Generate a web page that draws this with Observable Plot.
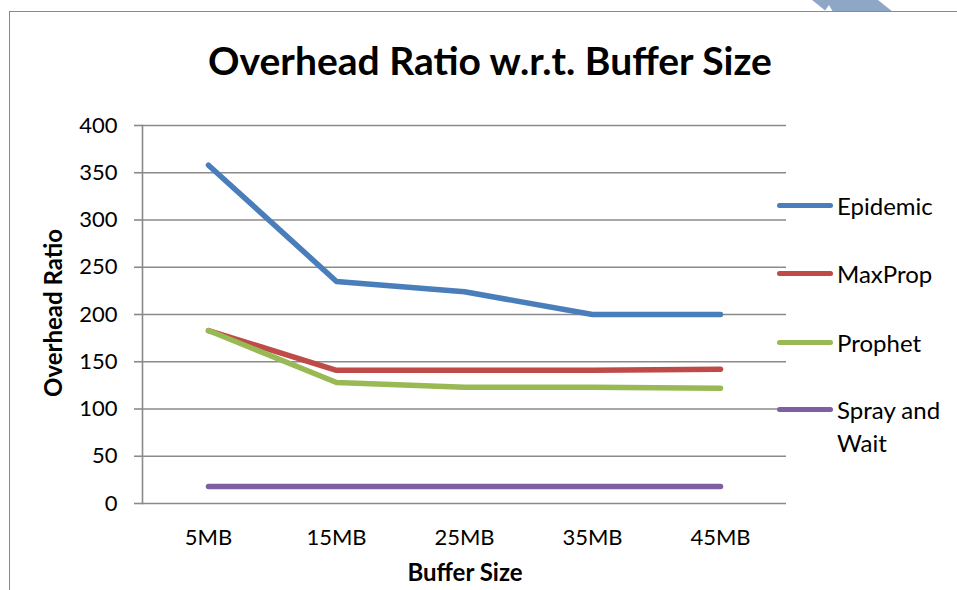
<!DOCTYPE html>
<html>
<head>
<meta charset="utf-8">
<script src="https://cdn.jsdelivr.net/npm/d3@7"></script>
<script src="https://cdn.jsdelivr.net/npm/@observablehq/plot@0.6"></script>
<style>
  html, body { margin: 0; padding: 0; background: #fff; }
  body { width: 957px; height: 590px; position: relative; overflow: hidden; font-family: Lato, "Open Sans", sans-serif; color: #000; }
  #swoosh { position: absolute; left: 0; top: 0; }
  #frame { position: absolute; left: 9px; top: 11px; width: 1000px; height: 700px; border-top: 1.5px solid #8a8a8a; border-left: 1.5px solid #8a8a8a; background: #fff; }
  #title { position: absolute; left: 0; width: 980px; top: 37px; text-align: center; font-weight: 700; font-size: 39px; line-height: 46px; }
  #chart { position: absolute; left: 0; top: 100px; }
  #xtitle { position: absolute; left: 365px; width: 200px; top: 557px; text-align: center; font-weight: 700; font-size: 24px; line-height: 30px; }
  #ytitle { position: absolute; left: 52px; top: 313px; transform: translate(-50%, -50%) rotate(-90deg); font-weight: 700; font-size: 24px; white-space: nowrap; }
  .leg { position: absolute; left: 777px; font-size: 24px; line-height: 33px; }
  .leg .sw { position: absolute; left: 0; width: 56px; height: 5px; border-radius: 3px; top: 14px; }
  .leg .lb { position: absolute; left: 60px; white-space: nowrap; }
</style>
</head>
<body>
<svg id="swoosh" width="957" height="20"><polygon points="812,0 878,0 893,12 827,12" fill="#8ea7c7"/><polygon points="824,12 833,12 829,5" fill="#fff"/></svg>
<div id="frame"></div>
<div id="title">Overhead Ratio w.r.t. Buffer Size</div>
<div id="chart"></div>
<div id="xtitle">Buffer Size</div>
<div id="ytitle">Overhead Ratio</div>
<div id="legend"></div>
<script>
const sizes = ["5MB", "15MB", "25MB", "35MB", "45MB"];
const seriesNames = ["Epidemic", "MaxProp", "Prophet", "Spray and Wait"];
const epidemic = [358, 235, 224, 200, 200];
const maxprop = [183, 141, 141, 141, 142];
const prophet = [183, 128, 123, 123, 122];
const sprayAndWait = [18, 18, 18, 18, 18];
const yTicks = [0, 50, 100, 150, 200, 250, 300, 350, 400];
const colors = ["#4a7ebb", "#be4b48", "#98b954", "#7d60a0"];

const seriesValues = [epidemic, maxprop, prophet, sprayAndWait];
const rows = [];
seriesNames.forEach((s, i) => sizes.forEach((size, j) => rows.push({series: s, size, value: seriesValues[i][j]})));

const grid = "#8a8a8a";
const chart = Plot.plot({
  width: 957,
  height: 490,
  marginTop: 25,
  marginBottom: 87,
  marginLeft: 142,
  marginRight: 171,
  style: {fontFamily: "Lato, 'Open Sans', sans-serif", fontSize: "22px", color: "#000", background: "transparent"},
  x: {type: "point", domain: sizes, padding: 0.5, axis: null},
  y: {domain: [0, 400], axis: null},
  color: {domain: seriesNames, range: colors},
  marks: [
    Plot.ruleY(yTicks, {stroke: grid, strokeWidth: 1.6}),
    Plot.axisY({ticks: yTicks, tickSize: 8, tickPadding: 17, stroke: grid, strokeWidth: 1.6, fill: "#000", fontSize: 22, label: null}),
    Plot.axisX({tickSize: 0, tickPadding: 26, fill: "#000", fontSize: 22, label: null}),
    Plot.frame({anchor: "left", stroke: grid, strokeWidth: 1.6}),
    Plot.line(rows, {x: "size", y: "value", z: "series", stroke: "series", strokeWidth: 5.5, strokeLinecap: "round", strokeLinejoin: "round"})
  ]
});
document.getElementById("chart").appendChild(chart);

const legend = document.getElementById("legend");
const legY = [205, 273, 342, 409];
seriesNames.forEach((s, i) => {
  const d = document.createElement("div");
  d.className = "leg";
  d.style.top = (legY[i] - 16) + "px";
  const parts = s === "Spray and Wait" ? "Spray and<br>Wait" : s;
  d.innerHTML = `<div class="sw" style="background:${colors[i]}"></div><div class="lb">${parts}</div>`;
  legend.appendChild(d);
});
</script>
</body>
</html>
